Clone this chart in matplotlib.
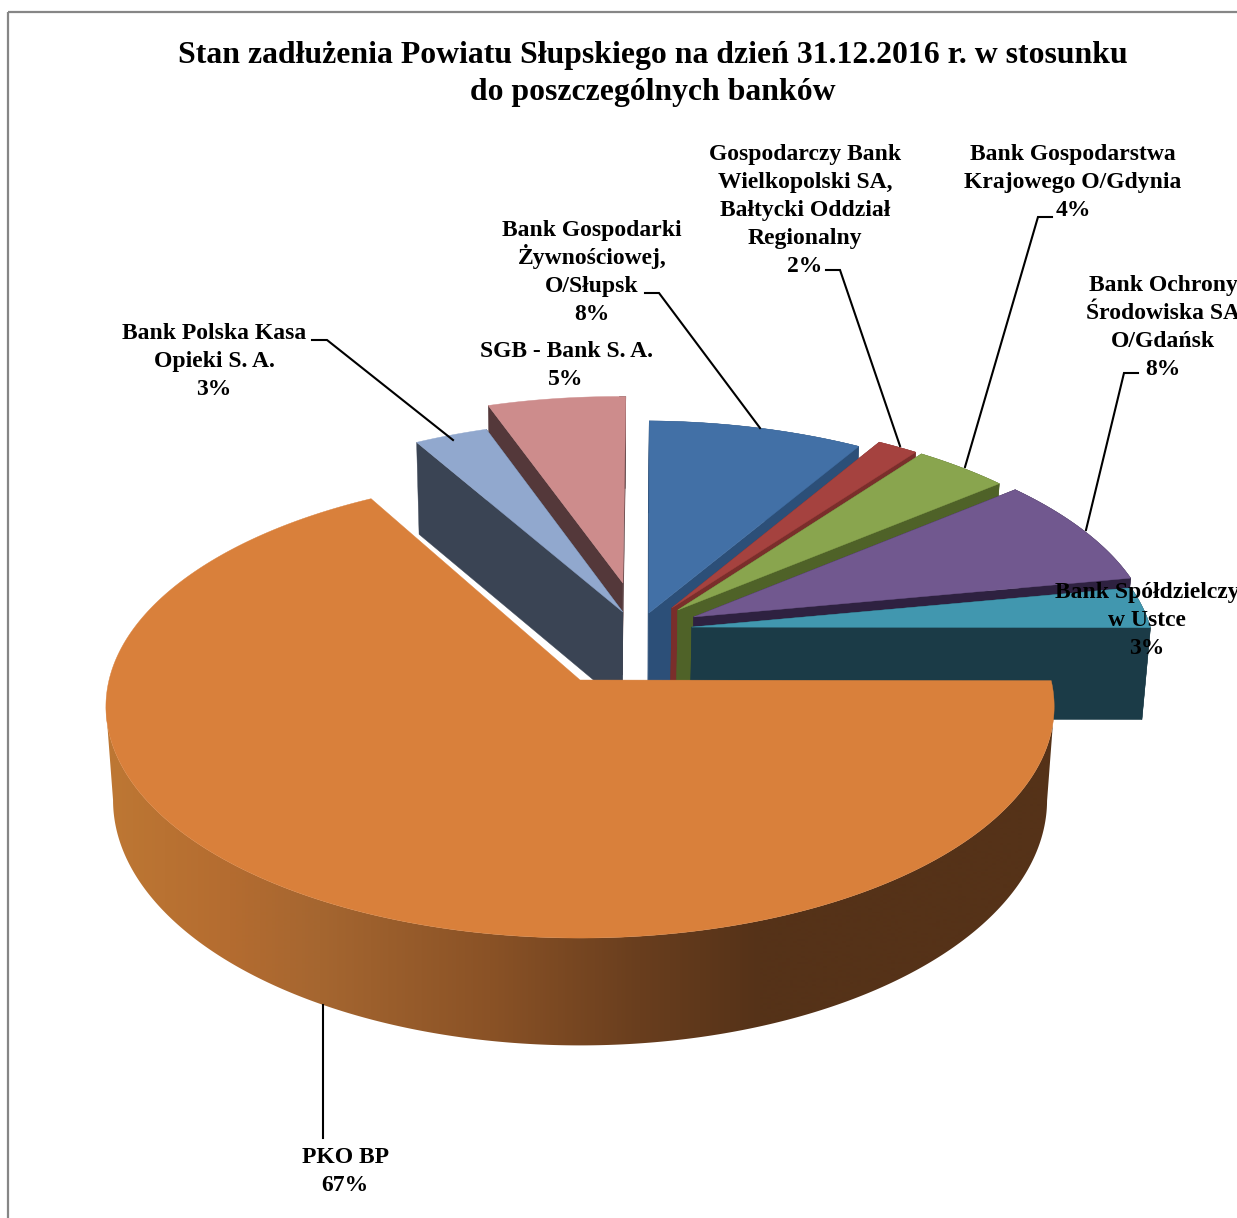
import numpy as np
import matplotlib
matplotlib.use("Agg")
import matplotlib.pyplot as plt
from matplotlib.patches import Polygon, Rectangle
from matplotlib.colors import to_rgb

# ---- data -------------------------------------------------------------
title_lines = ["Stan zadłużenia Powiatu Słupskiego na dzień 31.12.2016 r. w stosunku",
               "do poszczególnych banków"]
banks = ["Bank Gospodarki\nŻywnościowej,\nO/Słupsk",
         "Gospodarczy Bank\nWielkopolski SA,\nBałtycki Oddział\nRegionalny",
         "Bank Gospodarstwa\nKrajowego O/Gdynia",
         "Bank Ochrony\nŚrodowiska SA\nO/Gdańsk",
         "Bank Spółdzielczy\nw Ustce",
         "PKO BP",
         "Bank Polska Kasa\nOpieki S. A.",
         "SGB - Bank S. A."]
# shares; labels show them rounded
shares = [8.4, 1.6, 3.75, 8.0, 3.0, 66.8, 2.9, 5.49]

# ---- style / layout ---------------------------------------------------
top_colors = ["#4270A6", "#A5423F", "#89A54E", "#71588F", "#4197AF", "#D9803B", "#91A8CE", "#CD8C8C"]
wall_colors = ["#2C4F78", "#7A2E2B", "#4F6228", "#2E2140", "#1B3B47", "#553218", "#3A4454", "#54383A"]
# explosion of each slice on the pie's plane (pie radius = 1)
explode_xy = [(.149, .303), (.200, .327), (.213, .3175), (.247, .285), (.2416, .238),
              (-.002, 0), (.092, .308), (.0935, .446)]
paint_order = [7, 6, 0, 1, 2, 3, 4, 5]
gradient_slice = 5
FIRST_ANGLE = 1.0
label_xy = [(592, 236), (805, 160), (1073, 160), (1163, 291), (1147, 598), (345, 1163), (214, 339), (566, 357)]
leaders = [[(645, 293), (659, 293), (760, 428)],
           [(826, 270), (840, 270), (900, 446)],
           [(1052, 217), (1038, 217), (965, 467)],
           [(1138, 373), (1124, 373), (1086, 530)],
           None,
           [(323, 1005), (323, 1138)],
           [(312, 340), (327, 340), (453, 440)],
           None]
X0, Y0, AX, AY, PERSP = 581, 680, 471, 228.5, 0.1145
DEPTH, SHRINK, DEPTH_NEAR = 92, 0.015, 0.143
grad_x = [100, 230, 320, 490, 640, 760, 1060]
grad_c = ["#BE7834", "#B46C30", "#A56630", "#8A5226", "#693E1E", "#553218", "#553218"]
LINE_H = 28
FS = 17
TITLE_FS = 22.9

W, H = 1237, 1218
fig = plt.figure(figsize=(W / 100, H / 100), dpi=100, facecolor="white")
ax = fig.add_axes([0, 0, 1, 1])
FONT = "Liberation Serif"


def project(x, y):
    w = 1 + PERSP * y
    return X0 + AX * x / w, Y0 - AY * y / w


def drop(px, py, y):
    d = DEPTH / (1 + DEPTH_NEAR * np.minimum(y, 0))
    return px - SHRINK * (px - X0), py + d


ax.add_patch(Rectangle((8, 12), W + 20, H + 20, fill=False, ec="#868686", lw=1.6, zorder=1))

fractions = np.array(shares) / sum(shares)
starts = FIRST_ANGLE + np.cumsum(np.r_[0, fractions[:-1]]) * 360
z = 2
for i in paint_order:
    a0 = np.radians(starts[i])
    a1 = a0 + np.radians(fractions[i] * 360)
    th = np.linspace(a0, a1, max(int(shares[i] * 12), 16))
    ex, ey = explode_xy[i]
    py = ey + np.cos(th)
    ox, oy = project(ex + np.sin(th), py)
    cx, cy = project(ex, ey)
    dox, doy = drop(ox, oy, py)
    dcx, dcy = drop(cx, cy, ey)
    wall = wall_colors[i]
    if i == gradient_slice:
        # outer wall: only the part of the rim that faces the viewer
        front = np.cos(th) < -PERSP
        outline = np.column_stack([np.r_[ox[front], dox[front][::-1]], np.r_[oy[front], doy[front][::-1]]])
        clip = Polygon(outline, closed=True, transform=ax.transData)
        xs = np.arange(grad_x[0], grad_x[-1] + 1)
        rgb = np.array([to_rgb(c) for c in grad_c])
        strip = np.stack([np.interp(xs, grad_x, rgb[:, c]) for c in range(3)], axis=-1)[None, :, :]
        im = ax.imshow(strip, extent=(grad_x[0], grad_x[-1], 1100, 600), aspect="auto",
                       interpolation="bilinear", zorder=z)
        im.set_clip_path(clip)
    else:
        # radial cut walls
        for k in (0, -1):
            ax.add_patch(Polygon([(cx, cy), (ox[k], oy[k]), (dox[k], doy[k]), (dcx, dcy)],
                                 closed=True, fc=wall, ec=wall, lw=0.3, zorder=z))
        front = np.sin(th) > 0
        if front.any():
            outline = np.column_stack([np.r_[ox[front], dox[front][::-1]], np.r_[oy[front], doy[front][::-1]]])
            ax.add_patch(Polygon(outline, closed=True, fc=wall, ec=wall, lw=0.3, zorder=z))
    # top face
    ax.add_patch(Polygon(np.column_stack([np.r_[cx, ox], np.r_[cy, oy]]), closed=True,
                         fc=top_colors[i], ec=top_colors[i], lw=0.3, zorder=z + 0.5))
    z += 1

ax.set_xlim(0, W)
ax.set_ylim(H, 0)
ax.set_aspect("auto")
ax.axis("off")

# title
for line, y in zip(title_lines, (63, 100)):
    ax.text(653, y, line, ha="center", va="baseline", family=FONT, weight="bold", fontsize=TITLE_FS,
            color="black", zorder=50)

# labels and leader lines
for name, share, (lx, ly), lead in zip(banks, shares, label_xy, leaders):
    rows = name.split("\n") + [f"{round(share)}%"]
    for n, row in enumerate(rows):
        ax.text(lx, ly + n * LINE_H, row, ha="center", va="baseline", family=FONT, weight="bold",
                fontsize=FS, color="black", zorder=50)
    if lead:
        xs, ys = zip(*lead)
        ax.plot(xs, ys, color="black", lw=1.5, solid_joinstyle="miter", zorder=40)

fig.savefig("out.png", dpi=100, facecolor="white")
